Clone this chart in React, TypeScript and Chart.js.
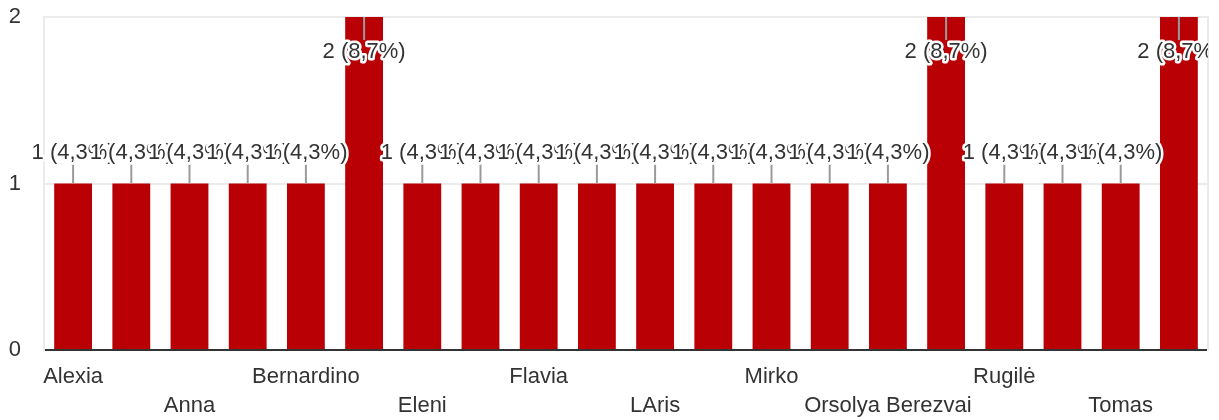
import React, { useEffect, useRef } from 'react';
import { Chart, registerables } from 'chart.js';

Chart.register(...registerables);

// Names at odd positions are not printed in the reference (skipped labels); placeholders.
const categories: string[] = [
  'Alexia', 'Alice', 'Anna', 'Antonio', 'Bernardino', 'Daniel', 'Eleni', 'Emma',
  'Flavia', 'Giulia', 'LAris', 'Maria', 'Mirko', 'Nina', 'Orsolya Berezvai', 'Paula',
  'Rugilė', 'Sara', 'Tomas', 'Viktor',
];
const counts: number[] = [1, 1, 1, 1, 1, 2, 1, 1, 1, 1, 1, 1, 1, 1, 1, 2, 1, 1, 1, 2];
const yTicks: number[] = [0, 1, 2];

const FONT = '"Liberation Sans", Arial, sans-serif';
const TEXT = '#333333';
const BAR = '#b90004';

const valueLabels = {
  id: 'valueLabels',
  afterDatasetsDraw(chart: any) {
    const ctx = chart.ctx;
    const meta = chart.getDatasetMeta(0);
    const total = counts.reduce((a, b) => a + b, 0);
    const area = chart.chartArea;
    ctx.save();
    ctx.beginPath();
    ctx.rect(0, 0, area.right, chart.height);
    ctx.clip();
    ctx.font = `22px ${FONT}`;
    ctx.textAlign = 'center';
    ctx.textBaseline = 'middle';
    ctx.lineJoin = 'round';
    meta.data.forEach((bar: any, i: number) => {
      const v = counts[i];
      const text = `${v} (${((v / total) * 100).toFixed(1).replace('.', ',')}%)`;
      const x = bar.x;
      const y = bar.y;
      let lineEnd: number;
      let textY: number;
      if (y - 44 < area.top) {
        lineEnd = y + 23;
        textY = y + 35;
      } else {
        lineEnd = y - 19;
        textY = y - 31;
      }
      ctx.strokeStyle = '#9a9a9a';
      ctx.lineWidth = 2;
      ctx.beginPath();
      ctx.moveTo(x, y);
      ctx.lineTo(x, lineEnd);
      ctx.stroke();
      ctx.strokeStyle = '#ffffff';
      ctx.lineWidth = 5;
      ctx.strokeText(text, x, textY);
      ctx.fillStyle = TEXT;
      ctx.fillText(text, x, textY);
    });
    ctx.restore();
  },
};

export default function App() {
  const ref = useRef<HTMLCanvasElement | null>(null);

  useEffect(() => {
    if (!ref.current) return;
    const chart = new Chart(ref.current, {
      type: 'bar',
      data: {
        labels: categories,
        datasets: [
          {
            data: counts,
            backgroundColor: BAR,
            borderWidth: 0,
            barPercentage: 0.65,
            categoryPercentage: 1,
          },
        ],
      },
      options: {
        animation: false,
        responsive: true,
        maintainAspectRatio: false,
        layout: { padding: { top: 17, right: 0, left: 0, bottom: 0 } },
        plugins: {
          legend: { display: false },
          tooltip: { enabled: false },
        },
        scales: {
          x: {
            grid: { display: false },
            border: { color: '#333333', width: 2 },
            ticks: {
              autoSkip: false,
              maxRotation: 0,
              minRotation: 0,
              padding: 5,
              color: TEXT,
              font: { family: FONT, size: 22, lineHeight: 1.3 },
              callback: (_v: any, i: number) => {
                if (i % 2 === 1) return '';
                const name = categories[i];
                return (i / 2) % 2 === 0 ? name : ['', name];
              },
            },
            afterFit: (scale: any) => {
              scale.height = 70;
              scale.paddingLeft = 0;
              scale.paddingRight = 0;
            },
          },
          y: {
            min: 0,
            max: 2,
            grid: {
              color: (c: any) => (c.tick && c.tick.value === 0 ? '#333333' : '#ebebeb'),
              lineWidth: 2,
              drawTicks: false,
            },
            border: { color: '#ebebeb', width: 2 },
            ticks: {
              padding: 23,
              color: TEXT,
              font: { family: FONT, size: 22 },
            },
            afterBuildTicks: (scale: any) => {
              scale.ticks = yTicks.map((v) => ({ value: v }));
            },
            afterFit: (scale: any) => {
              scale.width = 44;
              scale.paddingTop = 0;
              scale.paddingBottom = 0;
            },
          },
          y2: {
            position: 'right',
            display: true,
            grid: { display: false, drawTicks: false },
            border: { color: '#ebebeb', width: 2 },
            ticks: { display: false },
            afterFit: (scale: any) => {
              scale.width = 11;
              scale.paddingTop = 0;
              scale.paddingBottom = 0;
            },
          },
        },
      },
      plugins: [valueLabels],
    });
    return () => chart.destroy();
  }, []);

  return (
    <div style={{ position: 'absolute', left: 0, top: 0, width: 1219, height: 420, background: '#fff' }}>
      <canvas ref={ref} />
    </div>
  );
}
